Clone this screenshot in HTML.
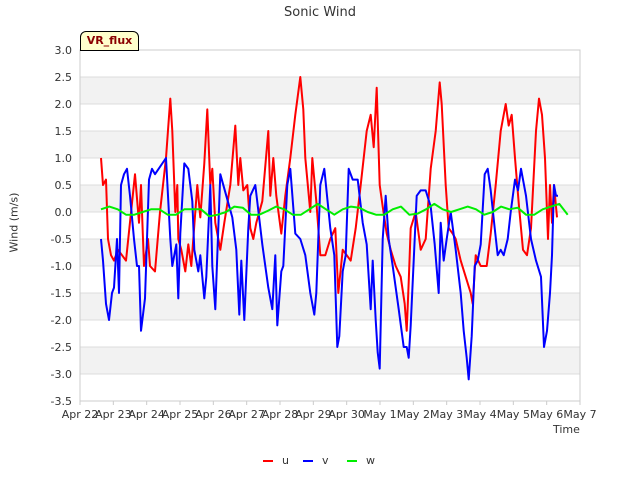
<!DOCTYPE html>
<html><head><meta charset="utf-8"><style>
body{margin:0;background:#fff;font-family:"Liberation Sans",sans-serif}
svg text{font-family:"DejaVu Sans","Liberation Sans",sans-serif}
</style></head><body>
<svg id="chart" width="640" height="480" xmlns="http://www.w3.org/2000/svg">
<g id="bands"></g><g id="grid"></g><g id="series"></g><g id="axes"></g>
</svg>
<script>
const yTicks=[3.0,2.5,2.0,1.5,1.0,0.5,0.0,-0.5,-1.0,-1.5,-2.0,-2.5,-3.0,-3.5];
const xTickLabels=["Apr 22","Apr 23","Apr 24","Apr 25","Apr 26","Apr 27","Apr 28","Apr 29","Apr 30","May 1","May 2","May 3","May 4","May 5","May 6","May 7"];
const uT=[0.63,0.69,0.78,0.84,0.93,1.02,1.14,1.26,1.38,1.65,1.77,1.83,1.92,2.04,2.10,2.25,2.40,2.58,2.71,2.77,2.86,2.92,2.95,3.04,3.16,3.25,3.34,3.52,3.61,3.73,3.82,3.91,3.97,4.06,4.21,4.33,4.51,4.66,4.75,4.81,4.90,5.02,5.11,5.20,5.29,5.47,5.65,5.71,5.80,5.89,6.04,6.16,6.31,6.46,6.61,6.70,6.76,6.91,6.97,7.09,7.21,7.36,7.51,7.66,7.75,7.88,8.00,8.12,8.27,8.42,8.60,8.72,8.81,8.90,8.99,9.08,9.20,9.32,9.47,9.62,9.74,9.80,9.86,9.92,10.07,10.22,10.37,10.52,10.67,10.79,10.85,10.97,11.06,11.18,11.27,11.42,11.57,11.72,11.78,11.87,12.02,12.20,12.32,12.47,12.62,12.77,12.86,12.95,13.05,13.17,13.29,13.41,13.53,13.68,13.77,13.86,13.95,14.04,14.10,14.16,14.22,14.31];
const uV=[1.0,0.5,0.6,-0.5,-0.8,-0.9,-0.7,-0.8,-0.9,0.7,-0.2,0.5,-1.0,-0.5,-1.0,-1.1,0.0,1.0,2.1,1.5,0.0,0.5,-0.5,-0.7,-1.1,-0.6,-1.0,0.5,-0.1,0.9,1.9,0.5,0.8,-0.2,-0.7,-0.2,0.5,1.6,0.5,1.0,0.4,0.5,-0.3,-0.5,-0.2,0.2,1.5,0.3,1.0,0.3,-0.4,0.3,1.0,1.8,2.5,1.9,1.0,0.0,1.0,0.2,-0.8,-0.8,-0.5,-0.3,-1.5,-0.7,-0.8,-0.9,-0.3,0.5,1.5,1.8,1.2,2.3,0.5,0.1,-0.4,-0.7,-1.0,-1.2,-1.7,-2.2,-1.3,-0.3,0.0,-0.7,-0.5,0.8,1.5,2.4,2.0,0.5,-0.3,-0.4,-0.5,-0.9,-1.2,-1.5,-1.7,-0.8,-1.0,-1.0,-0.4,0.5,1.5,2.0,1.6,1.8,1.0,0.1,-0.7,-0.8,-0.3,1.5,2.1,1.8,1.0,-0.5,0.5,-0.2,0.5,-0.1];
const vT=[0.63,0.69,0.78,0.87,0.96,1.02,1.11,1.17,1.23,1.32,1.41,1.50,1.62,1.71,1.77,1.83,1.89,1.95,2.07,2.16,2.25,2.58,2.71,2.77,2.89,2.95,3.01,3.13,3.25,3.37,3.43,3.55,3.61,3.73,3.79,3.91,3.97,4.06,4.15,4.21,4.39,4.57,4.69,4.78,4.84,4.93,5.05,5.11,5.26,5.47,5.65,5.77,5.86,5.92,6.04,6.10,6.22,6.31,6.46,6.61,6.76,6.91,7.03,7.09,7.21,7.33,7.51,7.63,7.72,7.78,7.88,7.97,8.06,8.18,8.33,8.48,8.60,8.72,8.78,8.87,8.93,8.99,9.08,9.17,9.26,9.38,9.56,9.71,9.80,9.86,9.92,10.04,10.10,10.22,10.37,10.52,10.64,10.76,10.82,10.91,11.00,11.12,11.27,11.42,11.51,11.60,11.66,11.75,11.84,11.93,12.02,12.14,12.23,12.32,12.44,12.53,12.62,12.71,12.83,12.92,13.05,13.14,13.23,13.38,13.53,13.68,13.83,13.92,14.01,14.10,14.16,14.22,14.28,14.34];
const vV=[-0.5,-0.9,-1.7,-2.0,-1.5,-1.4,-0.5,-1.5,0.5,0.7,0.8,0.3,-0.5,-1.0,-1.0,-2.2,-1.9,-1.6,0.6,0.8,0.7,1.0,-0.5,-1.0,-0.6,-1.6,-0.4,0.9,0.8,0.2,-0.7,-1.1,-0.8,-1.6,-1.2,0.5,-1.0,-1.8,-0.3,0.7,0.3,-0.1,-0.7,-1.9,-0.9,-2.0,-0.3,0.3,0.5,-0.6,-1.4,-1.8,-0.8,-2.1,-1.1,-1.0,0.5,0.8,-0.4,-0.5,-0.8,-1.5,-1.9,-1.5,0.5,0.8,-0.3,-0.8,-2.5,-2.3,-1.1,-0.8,0.8,0.6,0.6,-0.2,-0.6,-1.8,-0.9,-2.0,-2.6,-2.9,-0.5,0.3,-0.5,-1.0,-1.8,-2.5,-2.5,-2.7,-2.1,-0.5,0.3,0.4,0.4,0.1,-0.6,-1.5,-0.2,-0.9,-0.5,0.0,-0.7,-1.5,-2.2,-2.7,-3.1,-2.3,-1.0,-0.9,-0.6,0.7,0.8,0.4,-0.3,-0.8,-0.7,-0.8,-0.5,0.0,0.6,0.4,0.8,0.3,-0.5,-0.9,-1.2,-2.5,-2.2,-1.5,-0.8,0.5,0.3,0.3];
const wStart=0.63, wStep=0.25;
const wV=[0.05,0.1,0.05,-0.05,-0.05,0.0,0.05,0.05,-0.05,-0.05,0.05,0.05,0.05,-0.08,-0.05,0.0,0.1,0.08,-0.05,-0.05,0.02,0.1,0.05,-0.05,-0.05,0.05,0.15,0.05,-0.05,0.05,0.1,0.08,0.0,-0.05,-0.05,0.05,0.1,-0.05,-0.03,0.05,0.15,0.05,0.0,0.05,0.1,0.05,-0.05,0.0,0.1,0.05,0.08,-0.05,-0.05,0.05,0.1,0.15,-0.05];
const L=80,R=580,T=50,B=401,ymin=-3.5,ymax=3.0;
const X=d=>L+(R-L)*d/15;
const Y=v=>T+(ymax-v)/(ymax-ymin)*(B-T);
const NS="http://www.w3.org/2000/svg";
function mk(tag,attrs,parent,txt){const e=document.createElementNS(NS,tag);for(const k in attrs)e.setAttribute(k,attrs[k]);if(txt!==undefined)e.textContent=txt;document.getElementById(parent).appendChild(e);return e;}
for(let i=0;i<yTicks.length-1;i++){if(i%2===1){const r=mk('rect',{x:L,y:Y(yTicks[i]),width:R-L,height:Y(yTicks[i+1])-Y(yTicks[i]),fill:'#f2f2f2'},'bands');

}}
yTicks.forEach(v=>{const l=mk('line',{x1:L,x2:R,y1:Y(v),y2:Y(v),stroke:'#dcdcdc','stroke-width':1},'grid');


const t=mk('text',{x:L-8,y:Y(v)+4,'text-anchor':'end','font-size':11,fill:'#333'},'axes',v.toFixed(1));

});
xTickLabels.forEach((s,i)=>{const t=mk('text',{x:X(i),y:B+17,'text-anchor':'middle','font-size':11,fill:'#333'},'axes',s);


const k=mk('line',{x1:X(i),x2:X(i),y1:B,y2:B+4,stroke:'#ccc'},'axes');

});
const fr=mk('rect',{x:L,y:T,width:R-L,height:B-T,fill:'none',stroke:'#ccc'},'axes');


function line(ts,vs,color,name){const p=mk('polyline',{points:ts.map((t,i)=>X(t).toFixed(1)+','+Y(vs[i]).toFixed(1)).join(' '),fill:'none',stroke:color,'stroke-width':2,'stroke-linejoin':'round'},'series');

}
line(uT,uV,'#ff0000','series-u');
line(vT,vV,'#0000ff','series-v');
line(wV.map((_,i)=>wStart+i*wStep),wV,'#00ee00','series-w');
</script>
<div style="position:absolute;left:0;top:5px;width:640px;text-align:center;font:13px 'DejaVu Sans','Liberation Sans',sans-serif;color:#333">Sonic Wind</div>
<div style="position:absolute;left:80px;top:31px;width:57px;height:18px;background:#ffffcc;border:1px solid #000;border-radius:6px 6px 0 0;font:bold 11px 'DejaVu Sans','Liberation Sans',sans-serif;color:#8b0000;text-align:center;line-height:18px">VR_flux</div>
<div style="position:absolute;left:-18px;top:216px;width:64px;text-align:center;transform:rotate(-90deg);font:11px 'DejaVu Sans','Liberation Sans',sans-serif;color:#333">Wind (m/s)</div>
<div style="position:absolute;left:553px;top:423px;font:11px 'DejaVu Sans','Liberation Sans',sans-serif;color:#333">Time</div>
<div style="position:absolute;left:263px;top:454px;font:11px 'DejaVu Sans','Liberation Sans',sans-serif;color:#333"><span style="display:inline-block;width:10px;height:2px;background:#f00;vertical-align:middle;margin-right:9px"></span>u</div>
<div style="position:absolute;left:303px;top:454px;font:11px 'DejaVu Sans','Liberation Sans',sans-serif;color:#333"><span style="display:inline-block;width:10px;height:2px;background:#00f;vertical-align:middle;margin-right:9px"></span>v</div>
<div style="position:absolute;left:347px;top:454px;font:11px 'DejaVu Sans','Liberation Sans',sans-serif;color:#333"><span style="display:inline-block;width:10px;height:2px;background:#0e0;vertical-align:middle;margin-right:9px"></span>w</div>
</body></html>
